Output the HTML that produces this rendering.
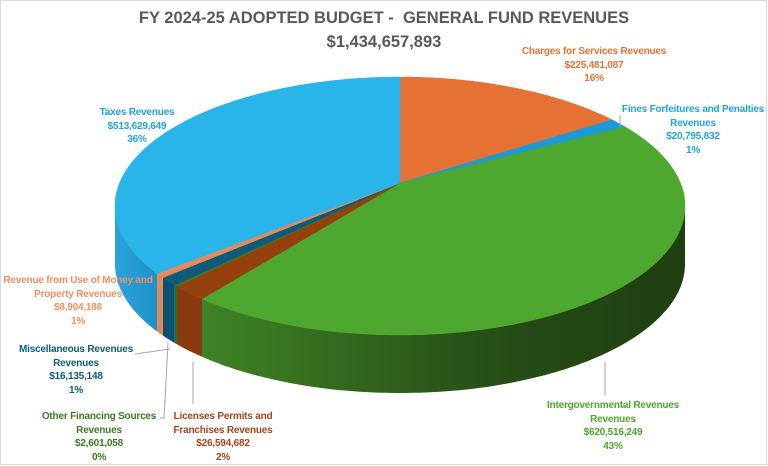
<!DOCTYPE html>
<html><head><meta charset="utf-8"><style>
html,body{margin:0;padding:0;background:#fff}
#c{position:relative;width:768px;height:466px;overflow:hidden;font-family:"Liberation Sans",sans-serif;}
.t{position:absolute;left:0;width:768px;text-align:center;color:#595959;font-weight:bold;font-size:16.5px}
.l{position:absolute;font-weight:bold;font-size:10px;letter-spacing:-0.2px;line-height:13.5px;text-align:center;white-space:nowrap;transform:translateX(-50%)}
</style></head><body><div id="c">
<svg id="s" width="768" height="466" style="position:absolute;left:0;top:0">
<defs>
<linearGradient id="gg" x1="0" x2="1" y1="0" y2="0"><stop offset="0" stop-color="#3f8326"/><stop offset="0.6" stop-color="#264e16"/><stop offset="1" stop-color="#1f3f12"/></linearGradient>
<linearGradient id="gb" x1="0" x2="1"><stop offset="0" stop-color="#2ba3dc"/><stop offset="1" stop-color="#1f92c8"/></linearGradient>
</defs>
<rect x="0.5" y="0.5" width="766" height="464" fill="none" stroke="#d9d9d9"/>
<g id="g"></g>
<g stroke="#a6a6a6" stroke-width="1" fill="none">
<polyline points="620,115 620,128"/>
<polyline points="135,354 170,349"/>
<polyline points="160,418 164,418 168,343"/>
<polyline points="193,404 193,362"/>
<polyline points="605,395 605,362"/>
</g>
</svg>
<div class="t" style="top:9px">FY 2024-25 ADOPTED BUDGET -&nbsp; GENERAL FUND REVENUES</div>
<div class="t" style="top:33px">$1,434,657,893</div>
<div class="l" style="left:594px;top:45px;color:#e57234">Charges for Services Revenues<br>$225,481,087<br>16%</div>
<div class="l" style="left:693px;top:103px;color:#1fa5dc">Fines Forfeitures and Penalties<br>Revenues<br>$20,795,832<br>1%</div>
<div class="l" style="left:137px;top:106px;color:#1fa5dc">Taxes Revenues<br>$513,629,649<br>36%</div>
<div class="l" style="left:78px;top:274px;color:#ee9060">Revenue from Use of Money and<br>Property Revenues<br>$8,904,188<br>1%</div>
<div class="l" style="left:76px;top:343px;color:#0e5c7a">Miscellaneous Revenues<br>Revenues<br>$16,135,148<br>1%</div>
<div class="l" style="left:99px;top:410px;color:#3d7a25">Other Financing Sources<br>Revenues<br>$2,601,058<br>0%</div>
<div class="l" style="left:223px;top:410px;color:#a5461a">Licenses Permits and<br>Franchises Revenues<br>$26,594,682<br>2%</div>
<div class="l" style="left:613px;top:399px;color:#4ea72e">Intergovernmental Revenues<br>Revenues<br>$620,516,249<br>43%</div>
</div>
<script>
var cx=400,cy=206,rx=285,ry=129,D=58,ax=400,ay=183;
function P(d,dy){var r=d*Math.PI/180;return [(cx+rx*Math.sin(r)).toFixed(1),(cy-ry*Math.cos(r)+(dy||0)).toFixed(1)];}
var S=[[0,48.1,"#e57234","#c95f27"],[48.1,52.1,"#1a9ad6","#137fb3"],[52.1,224,"#4ea72e","url(#gg)"],[224,231.5,"#96400e","#8a3a10"],[231.5,232.2,"#3d7a25","#2e6e1a"],[232.2,236.3,"#0e5c7a","#0b5070"],[236.3,238.5,"#e8895a","#e0895a"],[238.5,360,"#29b5ea","url(#gb)"]];
var h="";
S.forEach(function(s){var a=Math.max(s[0],90),b=Math.min(s[1],270);if(b<=a)return;
var pts=[],i,st=(b-a)/Math.max(2,Math.ceil(b-a));
for(i=a;i<=b+1e-6;i+=st)pts.push(P(i).join(","));
for(i=b;i>=a-1e-6;i-=st)pts.push(P(i,D).join(","));
h+='<polygon points="'+pts.join(" ")+'" fill="'+s[3]+'"/>';});
S.forEach(function(s){var pts=[ax+","+ay],i,st=(s[1]-s[0])/Math.max(2,Math.ceil(s[1]-s[0]));
for(i=s[0];i<=s[1]+1e-6;i+=st)pts.push(P(i).join(","));
h+='<polygon points="'+pts.join(" ")+'" fill="'+s[2]+'" stroke="'+s[2]+'" stroke-width="0.5"/>';});
document.getElementById("g").innerHTML=h;
</script>
</body></html>
